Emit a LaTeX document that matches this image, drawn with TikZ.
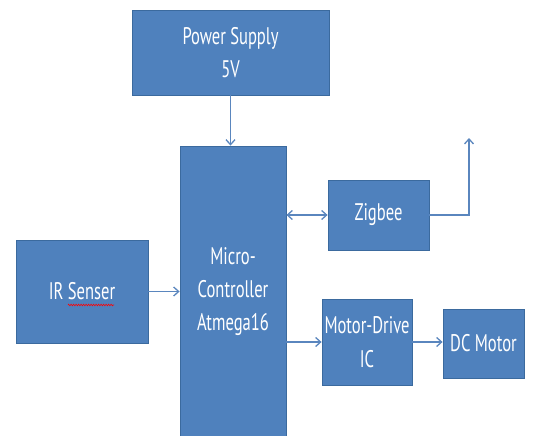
\documentclass[tikz,border=0pt]{standalone}
\usepackage{fontspec}
\setmainfont[FakeStretch=0.69]{PT Sans}
\usetikzlibrary{arrows.meta,decorations.pathmorphing}
\definecolor{boxfill}{HTML}{4F81BD}
\definecolor{boxline}{HTML}{3B6A9E}
\definecolor{arrowc}{HTML}{5A86BE}
\tikzset{
  blk/.style={draw=boxline, line width=0.8pt, fill=boxfill, text=white, align=center,
    inner sep=0pt, font=\fontsize{24}{33.5}\selectfont},
  conn/.style={draw=arrowc, line width=1.3pt, -{Straight Barb[length=5pt,width=9pt]}},
}
\begin{document}
\begin{tikzpicture}[x=1pt,y=-1pt]
\useasboundingbox (0,0) rectangle (533,436);
\clip (0,0) rectangle (533,436);
\node[blk, minimum width=197pt, minimum height=85pt] (power) at (230.5,52.5) {Power Supply\\5V};
\node[blk, minimum width=106pt, minimum height=300pt] (mcu) at (233,296) {};
\node[text=white, align=center, font=\fontsize{24}{33}\selectfont] (mcutext) at (233,292) {Micro-\\Controller\\Atmega16};
\node[blk, minimum width=101pt, minimum height=70pt] (zig) at (378.5,215) {Zigbee};
\node[blk, minimum width=132pt, minimum height=103pt] (ir) at (82,291.5) {IR Senser};
\node[blk, minimum width=90pt, minimum height=86pt] (md) at (367,342) {Motor-Drive\\IC};
\node[blk, minimum width=81pt, minimum height=69pt] (dc) at (483.5,343.5) {DC Motor};
\coordinate (ant) at (469,138);
\draw[conn] (power.south) -- (power.south |- mcu.north);
\draw[conn] (ir.east) -- (ir.east -| mcu.west);
\draw[conn, {Straight Barb[length=5pt,width=9pt]}-{Straight Barb[length=5pt,width=9pt]}] (zig.west -| mcu.east) -- (zig.west);
\draw[conn] (md.west -| mcu.east) -- (md.west);
\draw[conn] (md.east) -- (md.east -| dc.west);
\draw[conn] (zig.east) -| (ant);
\draw[red, line width=0.6pt, decorate, decoration={zigzag, amplitude=0.8pt, segment length=2.5pt}] (68,305) -- (114,305);
\end{tikzpicture}
\end{document}
